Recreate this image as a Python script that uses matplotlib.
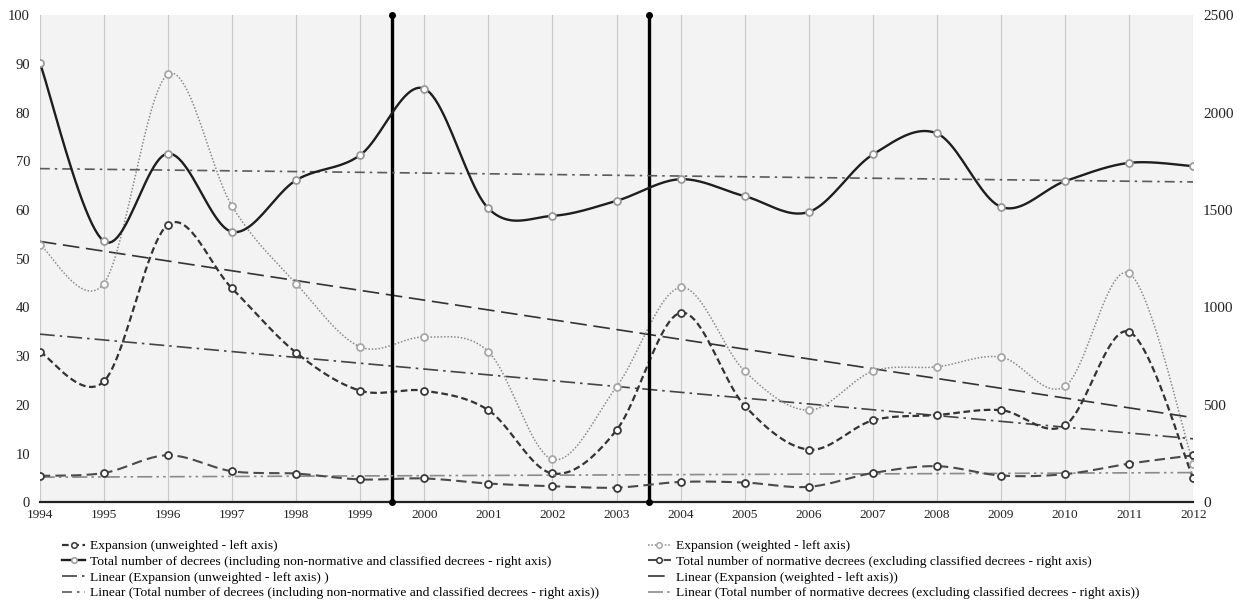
import numpy as np
import matplotlib
matplotlib.use('Agg')
import matplotlib.pyplot as plt
from matplotlib.lines import Line2D

plt.rcParams['font.family'] = ['Liberation Serif', 'DejaVu Serif']

years = list(range(1994, 2013))

# left axis (percent)
exp_unweighted = [30.9, 24.8, 57.0, 43.9, 30.7, 22.9, 22.9, 18.9, 5.9, 14.8,
                  38.9, 19.8, 10.8, 16.8, 17.9, 18.9, 15.8, 35.0, 4.9]
exp_weighted = [52.9, 44.9, 87.9, 60.8, 44.9, 31.9, 33.9, 30.9, 8.8, 23.7,
                44.1, 26.9, 18.9, 26.9, 27.8, 29.8, 23.8, 47.0, 7.9]

# right axis (counts)
total_decrees = [2257, 1340, 1790, 1388, 1653, 1782, 2123, 1508, 1470, 1547,
                 1658, 1571, 1490, 1785, 1893, 1516, 1648, 1742, 1725]
normative_decrees = [135, 150, 241, 159, 147, 117, 122, 96, 82, 75,
                     104, 101, 79, 150, 185, 137, 144, 198, 241]

breaks = [1999.5, 2003.5]

labels = ['Expansion (unweighted - left axis)',
          'Total number of decrees (including non-normative and classified decrees - right axis)',
          'Linear (Expansion (unweighted - left axis) )',
          'Linear (Total number of decrees (including non-normative and classified decrees - right axis))',
          'Expansion (weighted - left axis)',
          'Total number of normative decrees (excluding classified decrees - right axis)',
          'Linear (Expansion (weighted - left axis))',
          'Linear (Total number of normative decrees (excluding classified decrees - right axis))']


def smooth(xs, ys, n=24):
    # catmull-rom, like excel's "smoothed line"
    xs = np.asarray(xs, float)
    ys = np.asarray(ys, float)
    px = np.concatenate([[xs[0]], xs, [xs[-1]]])
    py = np.concatenate([[ys[0]], ys, [ys[-1]]])
    outx, outy = [], []
    t = np.linspace(0, 1, n)
    for i in range(1, len(px) - 2):
        for p, out in ((px, outx), (py, outy)):
            p0, p1, p2, p3 = p[i - 1], p[i], p[i + 1], p[i + 2]
            c1 = p1 + (p2 - p0) / 6
            c2 = p2 - (p3 - p1) / 6
            out.extend((1 - t) ** 3 * p1 + 3 * (1 - t) ** 2 * t * c1
                       + 3 * (1 - t) * t ** 2 * c2 + t ** 3 * p2)
    return outx, outy


def trend(xs, ys):
    k, b = np.polyfit(xs, ys, 1)
    return [xs[0], xs[-1]], [k * xs[0] + b, k * xs[-1] + b]


fig = plt.figure(figsize=(12.43, 6.08), dpi=100)
ax = fig.add_axes([0.032, 0.174, 0.928, 0.801])
ax2 = ax.twinx()
ax.set_facecolor('#f3f3f3')

styles = {
    'unw': dict(color='#333333', ls=(0, (3, 1.6)), lw=1.6),
    'tot': dict(color='#1e1e1e', ls='-', lw=1.7),
    'wei': dict(color='#8a8a8a', ls=(0, (1, 1.2)), lw=1.1),
    'nor': dict(color='#4a4a4a', ls=(0, (5, 2.5)), lw=1.5),
    'l_unw': dict(color='#444444', ls=(0, (9, 3, 1.5, 3)), lw=1.2),
    'l_tot': dict(color='#5a5a5a', ls=(0, (6, 3, 1.5, 3)), lw=1.2),
    'l_wei': dict(color='#333333', ls=(0, (10, 4)), lw=1.2),
    'l_nor': dict(color='#8a8a8a', ls=(0, (9, 2.5, 1.5, 2.5, 1.5, 2.5)), lw=1.2),
}
mk = {'unw': '#3a3a3a', 'tot': '#9a9a9a', 'wei': '#a8a8a8', 'nor': '#3a3a3a'}

for key, data, a in (('l_wei', exp_weighted, ax), ('l_unw', exp_unweighted, ax),
                     ('l_tot', total_decrees, ax2), ('l_nor', normative_decrees, ax2)):
    tx, ty = trend(years, data)
    a.plot(tx, ty, **styles[key], zorder=2)

for key, data, a in (('wei', exp_weighted, ax), ('unw', exp_unweighted, ax),
                     ('nor', normative_decrees, ax2), ('tot', total_decrees, ax2)):
    sx, sy = smooth(years, data)
    a.plot(sx, sy, **styles[key], zorder=3)
    a.plot(years, data, ls='none', marker='o', ms=5, mfc='white',
           mec=mk[key], mew=1.3, zorder=4)

for b in breaks:
    ax.plot([b, b], [0, 100], color='black', lw=2.4, marker='o', ms=4,
            clip_on=False, zorder=5)

ax.set_xlim(1994, 2012)
ax.set_ylim(0, 100)
ax2.set_ylim(0, 2500)
ax.set_xticks(years)
ax.set_yticks(range(0, 101, 10))
ax2.set_yticks(range(0, 2501, 500))
ax.grid(axis='x', color='#c8c8c8', lw=0.8)
ax.set_axisbelow(True)
for a in (ax, ax2):
    for s in a.spines.values():
        s.set_visible(False)
    a.tick_params(length=0, colors='#222222')
ax.spines['bottom'].set_visible(True)
ax.spines['bottom'].set_color('#222222')
ax.spines['bottom'].set_linewidth(1.6)
ax.tick_params(axis='x', pad=5, labelsize=9.5)
ax.tick_params(axis='y', pad=7, labelsize=10.5)
ax2.tick_params(axis='y', pad=7, labelsize=11)


def handle(key, marker=None):
    st = styles[key]
    if marker:
        return Line2D([], [], color=st['color'], ls=st['ls'], lw=st['lw'],
                      marker='o', ms=4, mfc='white', mec=mk[key], mew=1.1)
    return Line2D([], [], color=st['color'], ls=st['ls'], lw=st['lw'])


left_h = [handle('unw', 1), handle('tot', 1), handle('l_unw'), handle('l_tot')]
right_h = [handle('wei', 1), handle('nor', 1), handle('l_wei'), handle('l_nor')]
kw = dict(frameon=False, fontsize=9.7, handlelength=1.7, handletextpad=0.4,
          labelspacing=0.24, borderpad=0, borderaxespad=0)
fig.legend(left_h, labels[:4], loc='upper left',
           bbox_to_anchor=(0.05, 0.112), **kw)
fig.legend(right_h, labels[4:], loc='upper left',
           bbox_to_anchor=(0.521, 0.112), **kw)

fig.savefig('out.png', dpi=100)
